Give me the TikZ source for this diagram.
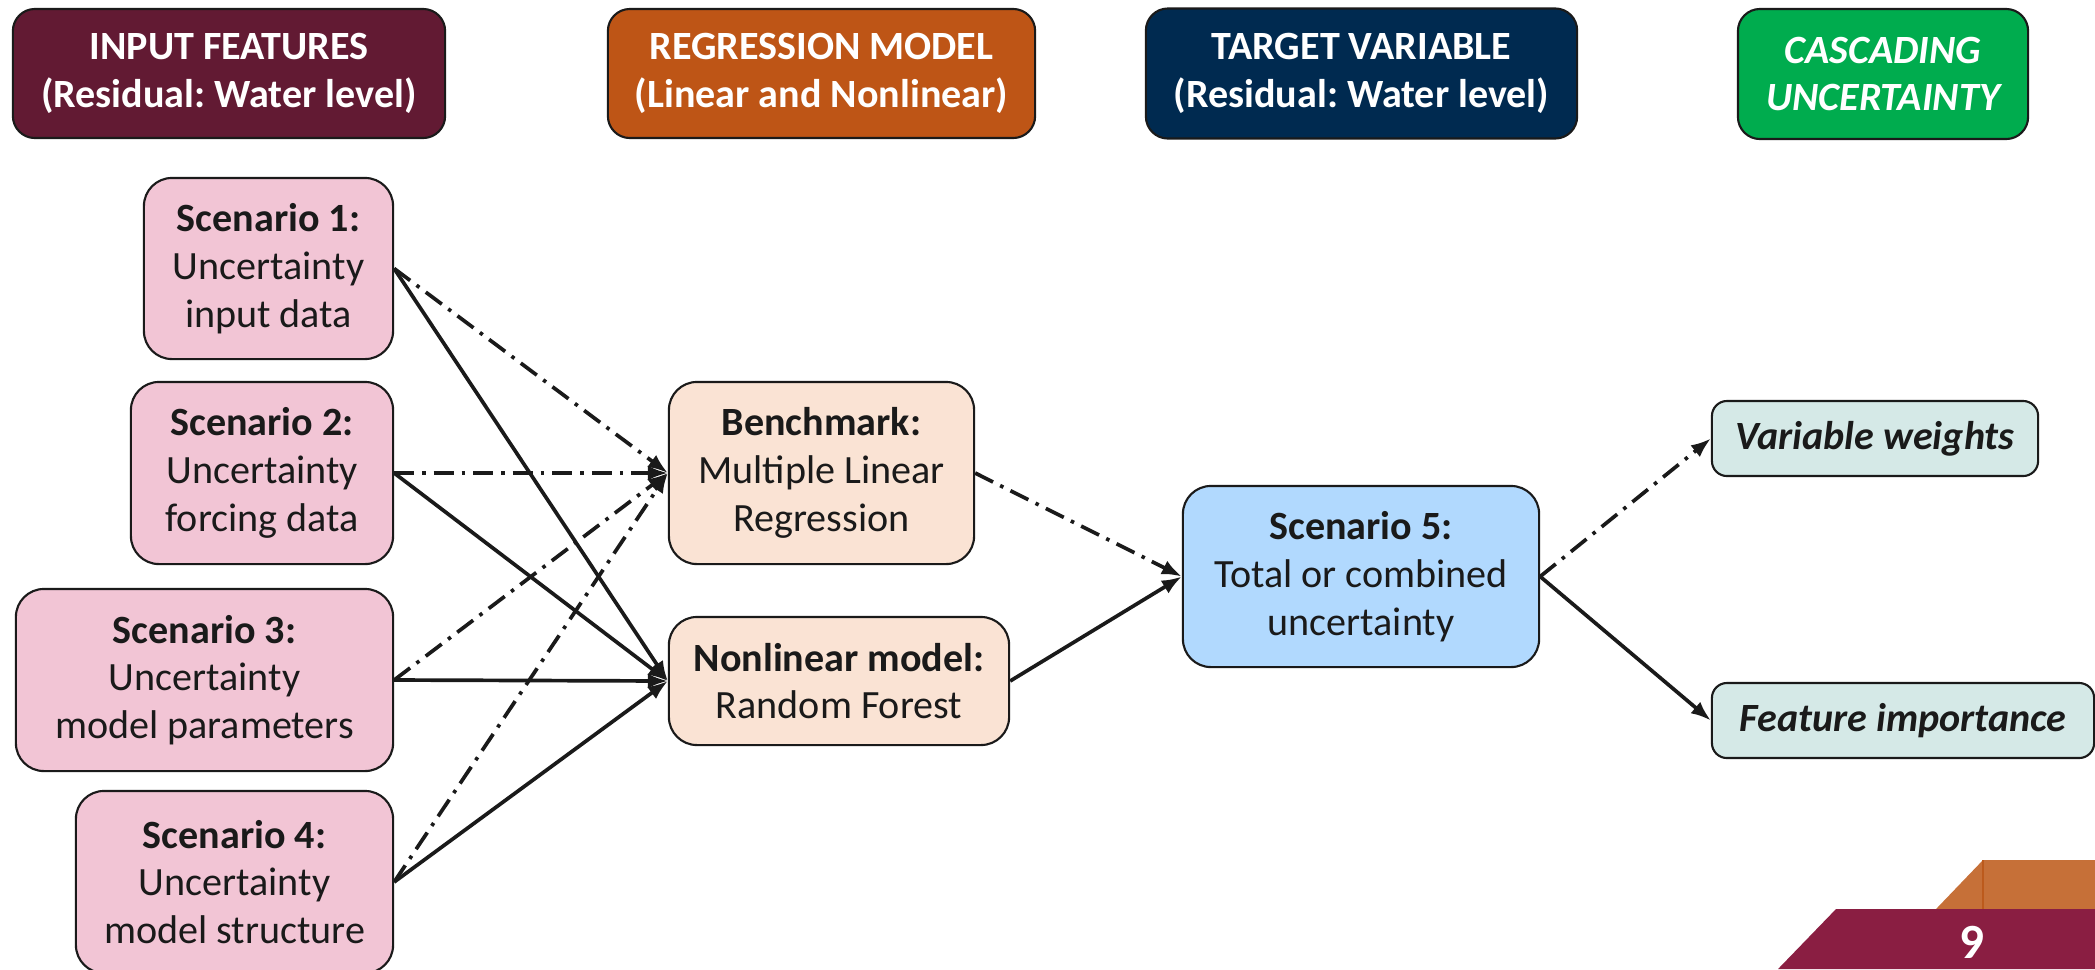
\documentclass[tikz,border=0pt]{standalone}
\usepackage{fontspec}
\setmainfont{Carlito}
\usetikzlibrary{arrows.meta}
\frenchspacing

\definecolor{hdrmaroon}{HTML}{621A33}
\definecolor{hdrorange}{HTML}{BE5516}
\definecolor{hdrnavy}{HTML}{002A50}
\definecolor{hdrgreen}{HTML}{00AC4E}
\definecolor{scenpink}{HTML}{F2C5D5}
\definecolor{modelpeach}{HTML}{FAE3D4}
\definecolor{totalblue}{HTML}{B1D9FE}
\definecolor{outteal}{HTML}{D5E9E7}
\definecolor{edgegray}{HTML}{1A1A1A}
\definecolor{footorange}{HTML}{C67038}
\definecolor{footorangeline}{HTML}{BC5A1C}
\definecolor{footmaroon}{HTML}{8A1E42}

\tikzset{
  basefont/.style={font=\fontsize{11.4}{13.6}\selectfont},
  boldfont/.style={font=\fontsize{11.4}{13.6}\selectfont\bfseries},
  bolditfont/.style={font=\fontsize{11.4}{13.6}\selectfont\bfseries\itshape},
  hdrbox/.style={boldfont, rounded corners=0.22cm, draw=edgegray, line width=0.6pt,
    text=white, align=center, inner sep=0pt},
  scenbox/.style={basefont, rounded corners=0.28cm, draw=edgegray, line width=0.6pt,
    fill=scenpink, text=edgegray, align=center, inner sep=0pt},
  modelbox/.style={scenbox, fill=modelpeach},
  totalbox/.style={scenbox, fill=totalblue},
  outbox/.style={bolditfont, rounded corners=0.15cm, draw=edgegray, line width=0.6pt,
    fill=outteal, text=edgegray, align=center, inner sep=0pt},
  conn/.style={line width=1.05pt, draw=edgegray,
    -{Latex[length=0.2cm,width=0.15cm]}},
  ddline/.style={conn, dash pattern=on 0.2cm off 0.08cm on 0.035cm off 0.08cm},
}

\begin{document}
\begin{tikzpicture}[x=0.01cm,y=-0.01cm]
\useasboundingbox (0,0) rectangle (2095,969);

% column headers
\node[hdrbox, fill=hdrmaroon, minimum width=4.32cm, minimum height=1.29cm]
  (hin) at (229,73.5) {INPUT FEATURES\\(Residual: Water level)};
\node[hdrbox, fill=hdrorange, minimum width=4.27cm, minimum height=1.29cm]
  (hreg) at (821.5,73.5) {REGRESSION MODEL\\(Linear and Nonlinear)};
\node[hdrbox, fill=hdrnavy, minimum width=4.31cm, minimum height=1.30cm]
  (htar) at (1361.5,73.5) {TARGET VARIABLE\\(Residual: Water level)};
\node[hdrbox, fill=hdrgreen, minimum width=2.90cm, minimum height=1.30cm, bolditfont]
  (hcas) at (1883,74) {CASCADING\\UNCERTAINTY};

% input scenarios
\node[scenbox, minimum width=2.49cm, minimum height=1.81cm]
  (s1) at (268.5,268.5) {\textbf{Scenario 1:}\\Uncertainty\\input data};
\node[scenbox, minimum width=2.62cm, minimum height=1.82cm]
  (s2) at (262,473) {\textbf{Scenario 2:}\\Uncertainty\\forcing data};
\node[scenbox, minimum width=3.77cm, minimum height=1.82cm]
  (s3) at (204.5,680) {\textbf{Scenario 3:}\\Uncertainty\\model parameters};
\node[scenbox, minimum width=3.17cm, minimum height=1.82cm]
  (s4) at (234.5,882) {\textbf{Scenario 4:}\\Uncertainty\\model structure};

% regression models
\node[modelbox, minimum width=3.05cm, minimum height=1.82cm]
  (bench) at (821.5,473) {\textbf{Benchmark:}\\Multiple Linear\\Regression};
\node[modelbox, minimum width=3.40cm, minimum height=1.28cm]
  (rf) at (839,681) {\textbf{Nonlinear model:}\\Random Forest};

% target
\node[totalbox, minimum width=3.56cm, minimum height=1.81cm]
  (s5) at (1361,576.5) {\textbf{Scenario 5:}\\Total or combined\\uncertainty};

% outputs
\node[outbox, minimum width=3.26cm, minimum height=0.75cm]
  (vw) at (1875,438.5) {Variable weights};
\node[outbox, minimum width=3.82cm, minimum height=0.75cm]
  (fi) at (1903,720.5) {Feature importance};

% scenarios into the linear benchmark
\draw[ddline] (s1.east) -- (bench.west);
\draw[ddline] (s2.east) -- (bench.west);
\draw[ddline] (s3.east) -- (bench.west);
\draw[ddline] (s4.east) -- (bench.west);

% scenarios into the random forest
\draw[conn] (s1.east) -- (rf.west);
\draw[conn] (s2.east) -- (rf.west);
\draw[conn] (s3.east) -- (rf.west);
\draw[conn] (s4.east) -- (rf.west);

% models into total uncertainty
\draw[ddline] (bench.east) -- (s5.west);
\draw[conn] (rf.east) -- (s5.west);

% cascading outputs
\draw[ddline] (s5.east) -- (vw.west);
\draw[conn] (s5.east) -- (fi.west);

% page corner badge
\fill[footorange] (1936,909) -- (1983,860) -- (2095,860) -- (2095,909) -- cycle;
\draw[footorangeline, line width=0.4pt] (1983,860) -- (1983,909);
\fill[footmaroon] (1778,969) -- (1836,909) -- (2095,909) -- (2095,969) -- cycle;
\node[anchor=base, text=white, inner sep=0pt, font=\fontsize{14}{16}\selectfont\bfseries]
  (pnum) at (1972,958) {9};
\end{tikzpicture}
\end{document}
